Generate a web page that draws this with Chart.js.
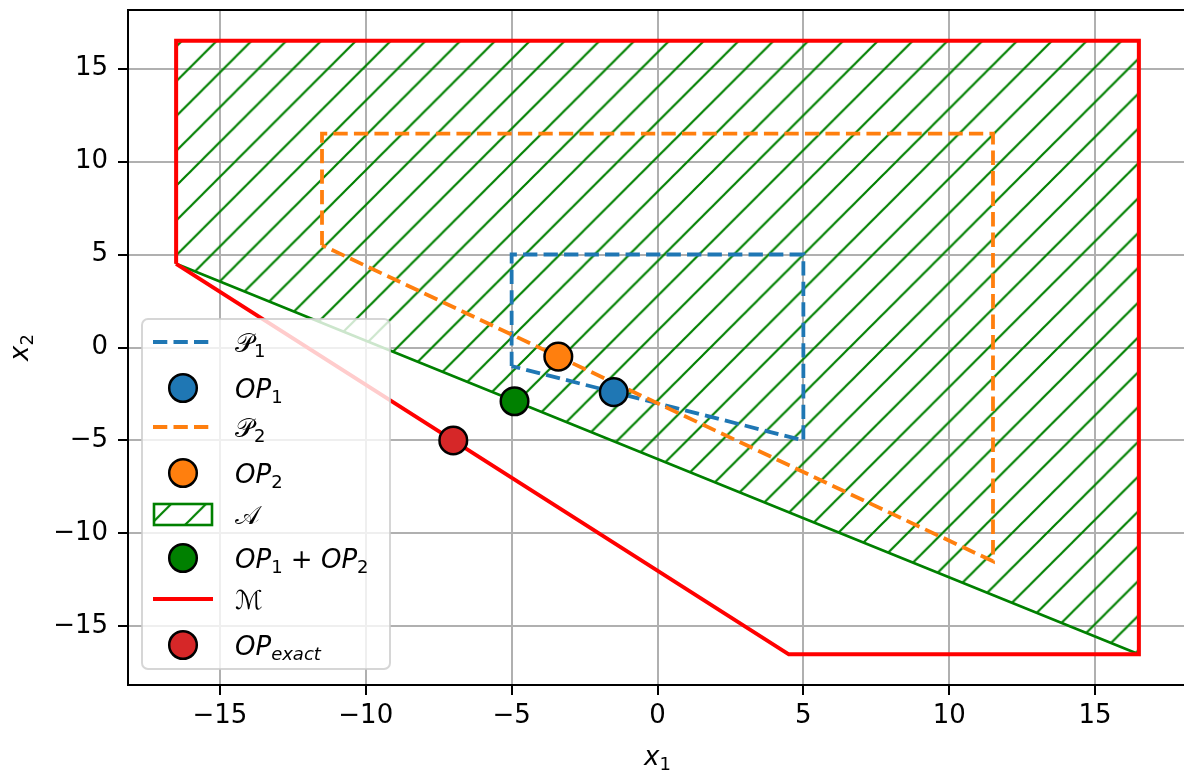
<!DOCTYPE html>
<html>
<head>
<meta charset="utf-8">
<script src="https://cdn.jsdelivr.net/npm/chart.js@4/dist/chart.umd.min.js"></script>
<style>
  body { margin: 0; overflow: hidden; background: #fff; }
  canvas { display: block; }
</style>
</head>
<body>
<canvas id="chart" width="1187" height="772"></canvas>
<script>
// ------------ DATA ---------------
const xTicks = [-15, -10, -5, 0, 5, 10, 15];
const yTicks = [-15, -10, -5, 0, 5, 10, 15];

// polygons (closed)
const p1X = [-5, -5, 5, 5, -5];
const p1Y = [-1, 5, 5, -5, -1];
const p2X = [-11.5, -11.5, 11.5, 11.5, -11.5];
const p2Y = [5.5, 11.5, 11.5, -11.5, 5.5];
const aX = [-16.5, -16.5, 16.5, 16.5, -16.5];
const aY = [4.5, 16.5, 16.5, -16.5, 4.5];
const mX = [-16.5, -16.5, 16.5, 16.5, 4.5, -16.5];
const mY = [4.5, 16.5, 16.5, -16.5, -16.5, 4.5];

// operating points
const op1 = [-1.5, -2.4];
const op2 = [-3.4, -0.49];
const opSum = [-4.9, -2.89];
const opExact = [-7, -5];

// legend and axis labels, as [text, style] pieces
const seriesLabels = [
  [['\u{1D4AB}', 'n'], ['1', 'sub']],
  [['OP', 'it'], ['1', 'sub']],
  [['\u{1D4AB}', 'n'], ['2', 'sub']],
  [['OP', 'it'], ['2', 'sub']],
  [['\u{1D49C}', 'n']],
  [['OP', 'it'], ['1', 'sub'], [' + ', 'n'], ['OP', 'it'], ['2', 'sub']],
  [['\u2133', 'n']],
  [['OP', 'it'], ['exact', 'subit']]
];
const xTitle = [['x', 'it'], ['1', 'sub']];
const yTitle = [['x', 'it'], ['2', 'sub']];

const FONT = 'DejaVu Sans';

const pts = (xs, ys) => xs.map((x, i) => ({x: x, y: ys[i]}));

// green "/" hatch, anchored to the canvas like matplotlib does
function makeHatch() {
  const t = document.createElement('canvas');
  t.width = 35; t.height = 35;
  const g = t.getContext('2d');
  g.strokeStyle = 'green';
  g.lineWidth = 2.2;
  g.beginPath();
  g.moveTo(-5, 40); g.lineTo(40, -5);
  g.moveTo(-5, 5); g.lineTo(5, -5);
  g.moveTo(30, 40); g.lineTo(40, 30);
  g.stroke();
  const p = g.createPattern(t, 'repeat');
  p.setTransform(new DOMMatrix().translate(13.9, 0).scale(34.8 / 35));
  return p;
}
const hatch = makeHatch();

const lineSet = (data, color, dash, width, order) => ({
  type: 'line', data: data, borderColor: color, borderWidth: width, borderDash: dash,
  pointRadius: 0, fill: false, tension: 0, order: order
});
const pointSet = (p, color, order) => ({
  type: 'scatter', data: [{x: p[0], y: p[1]}], backgroundColor: color, borderColor: '#000',
  borderWidth: 2.5, pointRadius: 13.8, order: order
});

const datasets = [
  lineSet(pts(p1X, p1Y), '#1f77b4', [14.3, 6.2], 3.8, 8),
  pointSet(op1, '#1f77b4', 4),
  lineSet(pts(p2X, p2Y), '#ff7f0e', [14.3, 6.2], 3.8, 7),
  pointSet(op2, '#ff7f0e', 3),
  {type: 'line', data: pts(aX, aY), borderColor: 'green', borderWidth: 2.6, pointRadius: 0,
   backgroundColor: hatch, fill: 'shape', tension: 0, order: 10},
  pointSet(opSum, 'green', 2),
  lineSet(pts(mX, mY), 'red', [], 4, 6),
  pointSet(opExact, '#d62728', 1)
];

// ------------ PLUGINS ---------------
const spines = {
  id: 'spines',
  afterDatasetsDraw(chart) {
    const {ctx, chartArea: a} = chart;
    ctx.save();
    ctx.strokeStyle = '#000';
    ctx.lineWidth = 2;
    ctx.beginPath();
    ctx.moveTo(a.left, a.top); ctx.lineTo(a.right, a.top); ctx.lineTo(a.right, a.bottom);
    ctx.stroke();
    ctx.restore();
  }
};

function segFont(kind) {
  if (kind === 'it') return ['italic 26px "' + FONT + '"', 0];
  if (kind === 'sub') return ['18px "' + FONT + '"', 5];
  if (kind === 'subit') return ['italic 18px "' + FONT + '"', 5];
  return ['26px "' + FONT + '"', 0];
}

function mathWidth(ctx, segs) {
  let w = 0;
  for (const [t, kind] of segs) {
    ctx.font = segFont(kind)[0];
    w += ctx.measureText(t).width;
  }
  return w;
}

function drawMath(ctx, segs, x, y) {
  for (const [t, kind] of segs) {
    const [font, dy] = segFont(kind);
    ctx.font = font;
    ctx.fillText(t, x, y + dy);
    x += ctx.measureText(t).width;
  }
}

const axisTitles = {
  id: 'axisTitles',
  afterDraw(chart) {
    const {ctx, chartArea: a} = chart;
    ctx.save();
    ctx.fillStyle = '#000';
    ctx.textBaseline = 'alphabetic';
    const cx = (a.left + a.right) / 2;
    drawMath(ctx, xTitle, cx - mathWidth(ctx, xTitle) / 2, 765);
    const cy = (a.top + a.bottom) / 2;
    ctx.translate(28, cy);
    ctx.rotate(-Math.PI / 2);
    drawMath(ctx, yTitle, -mathWidth(ctx, yTitle) / 2, 0);
    ctx.restore();
  }
};

const legendBox = {
  id: 'legendBox',
  afterDraw(chart) {
    const ctx = chart.ctx;
    const rows = [342, 388, 427, 473, 514, 558, 599, 645];
    const L = 142, T = 319, W = 248, H = 350, r = 6;
    ctx.save();
    ctx.beginPath();
    ctx.roundRect(L, T, W, H, r);
    ctx.fillStyle = 'rgba(255,255,255,0.8)';
    ctx.fill();
    ctx.strokeStyle = 'rgba(204,204,204,0.8)';
    ctx.lineWidth = 2;
    ctx.stroke();

    chart.data.datasets.forEach((ds, i) => {
      const y = rows[i];
      if (ds.type === 'scatter') {
        ctx.beginPath();
        ctx.arc(183, y, ds.pointRadius, 0, Math.PI * 2);
        ctx.fillStyle = ds.backgroundColor;
        ctx.fill();
        ctx.lineWidth = ds.borderWidth;
        ctx.strokeStyle = '#000';
        ctx.stroke();
      } else if (ds.fill === 'shape') {
        ctx.fillStyle = ds.backgroundColor;
        ctx.fillRect(154, y - 10, 58, 21);
        ctx.strokeStyle = ds.borderColor;
        ctx.lineWidth = ds.borderWidth;
        ctx.strokeRect(154, y - 10, 58, 21);
      } else {
        ctx.beginPath();
        ctx.setLineDash(ds.borderDash);
        ctx.moveTo(153, y); ctx.lineTo(213, y);
        ctx.strokeStyle = ds.borderColor;
        ctx.lineWidth = ds.borderWidth;
        ctx.stroke();
        ctx.setLineDash([]);
      }
      ctx.fillStyle = '#000';
      ctx.textBaseline = 'alphabetic';
      drawMath(ctx, seriesLabels[i], 235, y + 10);
    });
    ctx.restore();
  }
};

const fmt = v => String(v).replace('-', '\u2212');

const noPad = s => { s.paddingTop = 0; s.paddingBottom = 0; s.paddingLeft = 0; s.paddingRight = 0; };

const axisCommon = {
  type: 'linear',
  min: -18.15,
  max: 18.15,
  grid: {color: '#b0b0b0', lineWidth: 2, tickColor: '#000', tickLength: 10, tickWidth: 2},
  border: {color: '#000', width: 2}
};

new Chart(document.getElementById('chart'), {
  type: 'scatter',
  data: {datasets: datasets},
  options: {
    responsive: false,
    animation: false,
    layout: {autoPadding: false, padding: {top: 10, left: 0, right: 0, bottom: 0}},
    plugins: {legend: {display: false}, tooltip: {enabled: false}},
    scales: {
      x: Object.assign({}, axisCommon, {
        afterBuildTicks: s => { s.ticks = xTicks.map(v => ({value: v})); },
        afterFit: s => { s.height = 87; noPad(s); },
        ticks: {color: '#000', font: {family: FONT, size: 26}, padding: 6, callback: fmt}
      }),
      y: Object.assign({}, axisCommon, {
        afterBuildTicks: s => { s.ticks = yTicks.map(v => ({value: v})); },
        afterFit: s => { s.width = 128; noPad(s); },
        ticks: {color: '#000', font: {family: FONT, size: 26}, padding: 10, callback: fmt}
      })
    }
  },
  plugins: [spines, axisTitles, legendBox]
});
</script>
</body>
</html>
